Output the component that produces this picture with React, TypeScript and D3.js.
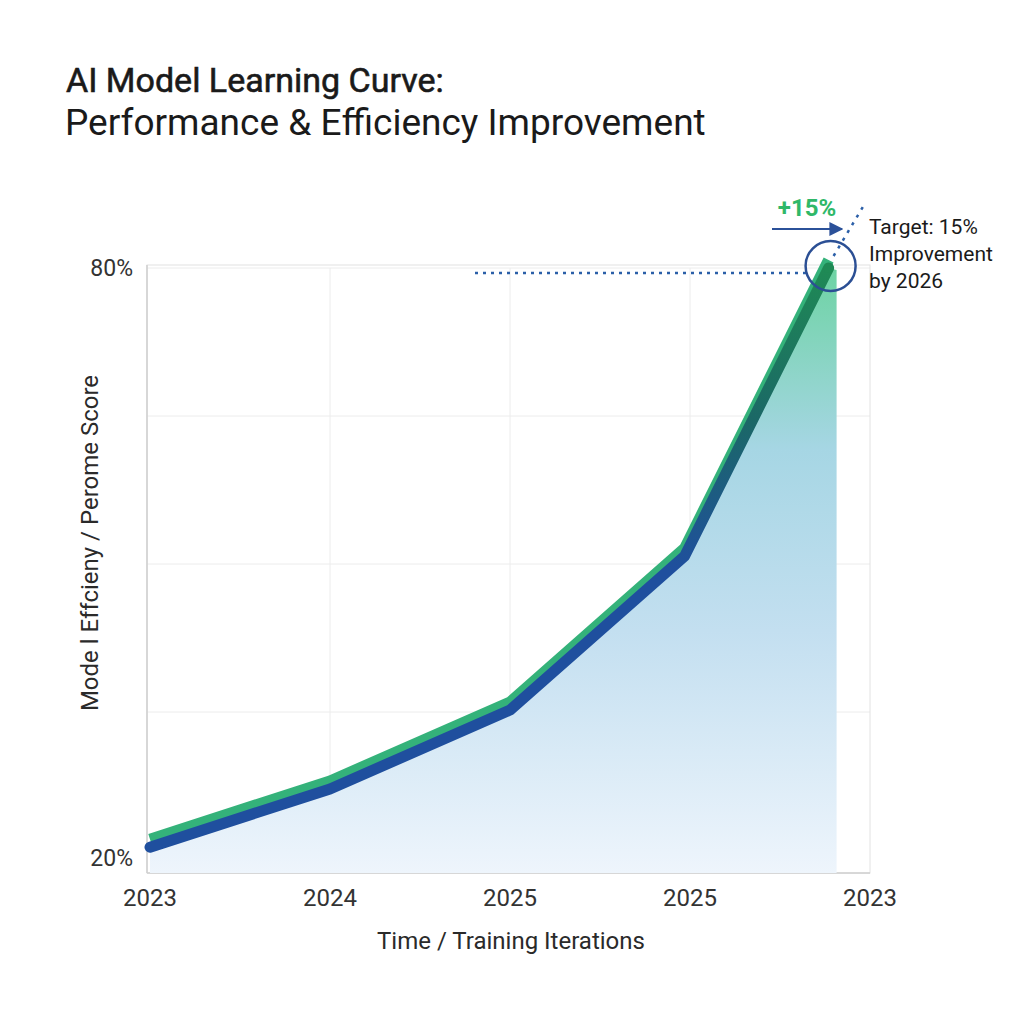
import React from "react";
import * as d3 from "d3";

// chart data
const xLabels = ["2023", "2024", "2025", "2025", "2023"];
const pointPos = [0, 1, 2, 2.97, 3.77];
const scores = [21.3, 27.2, 35.2, 50.8, 80];
const yTicks = [20, 35, 50, 65, 80];
const yLabelTicks = [20, 80];

const margin = { top: 268, right: 154, bottom: 164, left: 150 };
const W = 1024;
const H = 1024;

const App = () => {
  const x = d3.scaleLinear().domain([0, 4]).range([margin.left, W - margin.right]);
  const y = d3.scaleLinear().domain([20, 80]).range([H - margin.bottom, margin.top]);
  const plotBottom = 873;
  const pts = pointPos.map((p, i) => [x(p), y(scores[i])] as [number, number]);

  const line = d3.line<[number, number]>().x(d => d[0]).y(d => d[1]);
  const area = d3
    .area<[number, number]>()
    .x(d => d[0])
    .y0(plotBottom)
    .y1(d => d[1]);

  const last = pts[pts.length - 1];
  const font = "Roboto, 'Noto Sans', sans-serif";

  return (
    <svg width={W} height={H} style={{ display: "block", position: "absolute", left: 0, top: 0 }}>
      <defs>
        <linearGradient id="fillGrad" gradientUnits="userSpaceOnUse" x1="0" y1={margin.top} x2="0" y2={plotBottom}>
          <stop offset="0" stopColor="#6dd3a3" />
          <stop offset="0.3" stopColor="#a6d6e4" />
          <stop offset="0.6" stopColor="#c3dff0" />
          <stop offset="1" stopColor="#eef5fc" />
        </linearGradient>
        <linearGradient id="lineGrad" gradientUnits="userSpaceOnUse" x1="0" y1={plotBottom} x2="0" y2={margin.top}>
          <stop offset="0" stopColor="#1f4f9e" />
          <stop offset="0.5" stopColor="#1f4f9e" />
          <stop offset="0.75" stopColor="#1b6866" />
          <stop offset="1" stopColor="#1f8a55" />
        </linearGradient>
        <marker id="arrow" viewBox="0 0 10 10" refX="9" refY="5" markerWidth="7" markerHeight="7" orient="auto">
          <path d="M0,0 L10,5 L0,10 z" fill="#2b5199" />
        </marker>
      </defs>

      <rect width={W} height={H} fill="#ffffff" />

      {/* title */}
      <text x={66} y={92} fontFamily={font} fontSize={34} fill="#1a1a1a" stroke="#1a1a1a" strokeWidth={0.6}>
        AI Model Learning Curve:
      </text>
      <text x={65} y={135} fontFamily={font} fontSize={37} fill="#1a1a1a">
        Performance &amp; Efficiency Improvement
      </text>

      {/* grid */}
      {yTicks.slice(1).map(t => (
        <line key={"gy" + t} x1={margin.left - 3} x2={870} y1={y(t)} y2={y(t)} stroke="#ececec" strokeWidth={1} />
      ))}
      {[1, 2, 3].map(i => (
        <line key={"gx" + i} x1={x(i)} x2={x(i)} y1={margin.top} y2={plotBottom} stroke="#ececec" strokeWidth={1} />
      ))}
      <rect x={147} y={margin.top - 3} width={870 - 147} height={plotBottom - margin.top + 3} fill="none" stroke="#e2e2e2" strokeWidth={1} />
      <line x1={147} x2={147} y1={margin.top - 3} y2={plotBottom} stroke="#cfcfcf" strokeWidth={1.5} />
      <line x1={147} x2={870} y1={plotBottom} y2={plotBottom} stroke="#cfcfcf" strokeWidth={1.5} />

      {/* area */}
      <path d={area([...pts, [last[0] + 8, last[1] + 2]]) || ""} fill="url(#fillGrad)" />

      {/* lines */}
      <path
        d={line(pts) || ""}
        transform="translate(0,-8)"
        fill="none"
        stroke="#34b27a"
        strokeWidth={11}
        strokeLinejoin="round"
      />
      <path
        d={line(pts) || ""}
        fill="none"
        stroke="url(#lineGrad)"
        strokeWidth={11}
        strokeLinecap="round"
        strokeLinejoin="round"
      />
      <circle cx={last[0]} cy={last[1]} r={5} fill="#1f8a55" />

      {/* target annotation */}
      <line x1={475} x2={806} y1={273} y2={273} stroke="#2b5fa8" strokeWidth={2.5} strokeDasharray="3,5" />
      <circle cx={last[0] + 2} cy={last[1] - 2} r={25} fill="none" stroke="#2b4f94" strokeWidth={2.5} />
      <line x1={last[0] + 5} y1={last[1] - 12} x2={864} y2={205} stroke="#2b5fa8" strokeWidth={2.5} strokeDasharray="3,6" />
      <line x1={772} x2={842} y1={229} y2={229} stroke="#2b5199" strokeWidth={2} markerEnd="url(#arrow)" />
      <text x={807} y={216} textAnchor="middle" fontFamily={font} fontSize={24} fontWeight={700} fill="#2fb868">
        +15%
      </text>
      <g fontFamily={font} fontSize={21} fill="#1a1a1a">
        <text x={869} y={234}>Target: 15%</text>
        <text x={869} y={261}>Improvement</text>
        <text x={869} y={288}>by 2026</text>
      </g>

      {/* y ticks */}
      {yLabelTicks.map(t => (
        <text key={"yl" + t} x={133} y={y(t) + (t === 80 ? 0 : -2)} dy="0.35em" textAnchor="end" fontFamily={font} fontSize={23} fill="#333">
          {t}%
        </text>
      ))}

      {/* x ticks */}
      {xLabels.map((l, i) => (
        <text key={"xl" + i} x={x(i)} y={906} textAnchor="middle" fontFamily={font} fontSize={24} fill="#333">
          {l}
        </text>
      ))}

      <text x={511} y={949} textAnchor="middle" fontFamily={font} fontSize={24} fill="#2a2a2a">
        Time / Training Iterations
      </text>
      <text
        transform={`translate(98,543) rotate(-90)`}
        textAnchor="middle"
        fontFamily={font}
        fontSize={24}
        fill="#2a2a2a"
      >
        Mode l Effcieny / Perome Score
      </text>
    </svg>
  );
};

export default App;
